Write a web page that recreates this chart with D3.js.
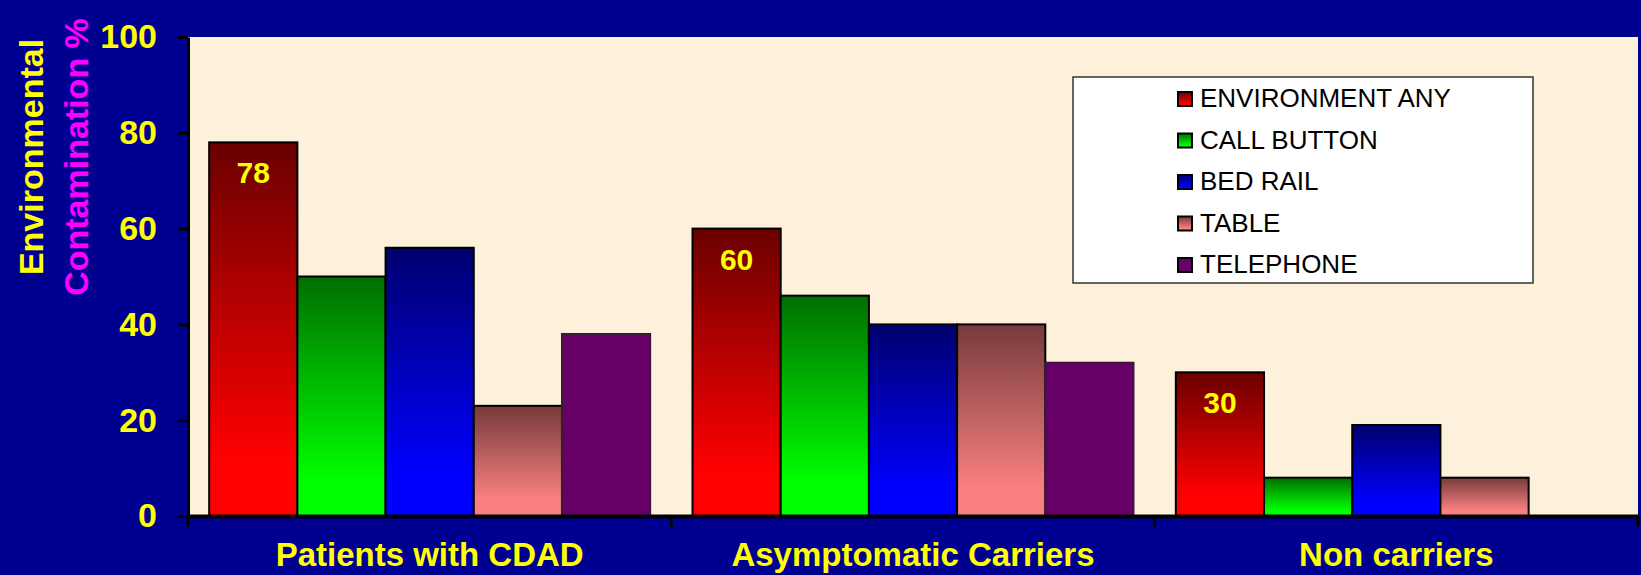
<!DOCTYPE html>
<html>
<head>
<meta charset="utf-8">
<script src="https://cdn.jsdelivr.net/npm/d3@7"></script>
<style>
  html, body { margin: 0; padding: 0; background: #000090; }
  svg { display: block; font-family: 'Liberation Sans', Arial, sans-serif; }
</style>
</head>
<body>
<div id="chart"></div>
<script>
// Data
const groups = ['Patients with CDAD', 'Asymptomatic Carriers', 'Non carriers']
const series = ['ENVIRONMENT ANY', 'CALL BUTTON', 'BED RAIL', 'TABLE', 'TELEPHONE']
const environmentAny = [78, 60, 30]
const callButton = [50, 46, 8]
const bedRail = [56, 40, 19]
const table = [23, 40, 8]
const telephone = [38, 32, null]
const yTicks = [0, 20, 40, 60, 80, 100]

const values = [environmentAny, callButton, bedRail, table, telephone]

// gradient colours per series: top, bottom
const fills = [
  ['#6a0000', '#ff0000'],
  ['#006e00', '#00ff00'],
  ['#00006e', '#0000ff'],
  ['#763a3a', '#f98080'],
  ['#660066', '#660066']
]

const width = 1641
const height = 575
const margin = { top: 37, right: 3, bottom: 59, left: 188 }
const innerWidth = width - margin.left - margin.right
const innerHeight = height - margin.top - margin.bottom

const svg = d3.select('#chart')
  .append('svg')
  .attr('width', width)
  .attr('height', height)

svg.append('rect')
  .attr('width', width)
  .attr('height', height)
  .attr('fill', '#000090')

// gradients
const defs = svg.append('defs')
fills.forEach((c, i) => {
  const grad = defs.append('linearGradient')
    .attr('id', `grad-${i}`)
    .attr('x1', 0).attr('y1', 0)
    .attr('x2', 0).attr('y2', 1)
  grad.append('stop').attr('offset', '0%').attr('stop-color', c[0])
  grad.append('stop').attr('offset', '85%').attr('stop-color', c[1])
  grad.append('stop').attr('offset', '100%').attr('stop-color', c[1])
})

const g = svg.append('g')
  .attr('transform', `translate(${margin.left}, ${margin.top})`)

// plot area background
g.append('rect')
  .attr('width', innerWidth)
  .attr('height', innerHeight)
  .attr('fill', '#fdf1db')

// scales
const x0 = d3.scaleBand().domain(groups).range([0, innerWidth]).padding(0)
const x1 = d3.scaleBand().domain(series).range([0, x0.bandwidth()])
  .paddingInner(0).paddingOuter(0.24)
const y = d3.scaleLinear().domain([0, 100]).range([innerHeight, 0])

// bars
groups.forEach((grp, gi) => {
  const gg = g.append('g').attr('transform', `translate(${x0(grp)}, 0)`)
  series.forEach((s, si) => {
    const v = values[si][gi]
    if (v == null) return
    gg.append('rect')
      .attr('x', x1(s))
      .attr('y', y(v))
      .attr('width', x1.bandwidth())
      .attr('height', innerHeight - y(v))
      .attr('fill', `url(#grad-${si})`)
      .attr('stroke', si === 4 ? '#3a1a3a' : '#000')
      .attr('stroke-width', 2)
  })
  // value label in the first bar
  gg.append('text')
    .attr('x', x1(series[0]) + x1.bandwidth() / 2)
    .attr('y', y(environmentAny[gi]) + 41)
    .attr('text-anchor', 'middle')
    .attr('fill', '#ffff00')
    .attr('font-size', 30)
    .attr('font-weight', 'bold')
    .text(environmentAny[gi])
})

// y axis
const yAxis = g.append('g')
  .call(d3.axisLeft(y).tickValues(yTicks).tickSize(10).tickSizeOuter(0).tickPadding(21))
yAxis.select('.domain').attr('stroke', '#000').attr('stroke-width', 3)
yAxis.selectAll('.tick line').attr('stroke', '#000').attr('stroke-width', 3)
yAxis.selectAll('.tick text')
  .attr('fill', '#ffff00')
  .attr('font-size', 34)
  .attr('font-weight', 'bold')
  .attr('font-family', "'Liberation Sans', Arial, sans-serif")

// x axis
const xAxis = g.append('g')
  .attr('transform', `translate(0, ${innerHeight})`)
  .call(d3.axisBottom(x0).tickSize(0).tickPadding(27))
xAxis.select('.domain').attr('stroke', '#000').attr('stroke-width', 4)
xAxis.selectAll('.tick text')
  .attr('fill', '#ffff00')
  .attr('font-size', 33)
  .attr('font-weight', 'bold')
  .attr('font-family', "'Liberation Sans', Arial, sans-serif")

// group separator ticks
xAxis.selectAll('.sep')
  .data(groups)
  .enter()
  .append('line')
  .attr('x1', d => x0(d) + x0.bandwidth())
  .attr('x2', d => x0(d) + x0.bandwidth())
  .attr('y1', 0)
  .attr('y2', 11)
  .attr('stroke', '#000')
  .attr('stroke-width', 3)
xAxis.append('line')
  .attr('x1', 0).attr('x2', 0)
  .attr('y1', 0).attr('y2', 11)
  .attr('stroke', '#000')
  .attr('stroke-width', 3)

// y axis title
svg.append('text')
  .attr('transform', 'translate(43, 157) rotate(-90)')
  .attr('text-anchor', 'middle')
  .attr('fill', '#ffff00')
  .attr('font-size', 34)
  .attr('font-weight', 'bold')
  .text('Environmental')
svg.append('text')
  .attr('transform', 'translate(88, 157) rotate(-90)')
  .attr('text-anchor', 'middle')
  .attr('fill', '#ff00ff')
  .attr('font-size', 34)
  .attr('font-weight', 'bold')
  .text('Contamination %')

// legend
const legend = svg.append('g').attr('transform', 'translate(1073, 77)')
legend.append('rect')
  .attr('width', 460)
  .attr('height', 206)
  .attr('fill', '#fff')
  .attr('stroke', '#333')
  .attr('stroke-width', 1.5)

const item = legend.selectAll('.item')
  .data(series)
  .enter()
  .append('g')
  .attr('transform', (d, i) => `translate(0, ${30 + i * 41.5})`)

item.append('rect')
  .attr('x', 105)
  .attr('y', -15)
  .attr('width', 14)
  .attr('height', 14)
  .attr('fill', (d, i) => `url(#grad-${i})`)
  .attr('stroke', '#000')
  .attr('stroke-width', 2)

item.append('text')
  .attr('x', 127)
  .attr('y', 0)
  .attr('fill', '#000')
  .attr('font-size', 26)
  .text(d => d)
</script>
</body>
</html>
